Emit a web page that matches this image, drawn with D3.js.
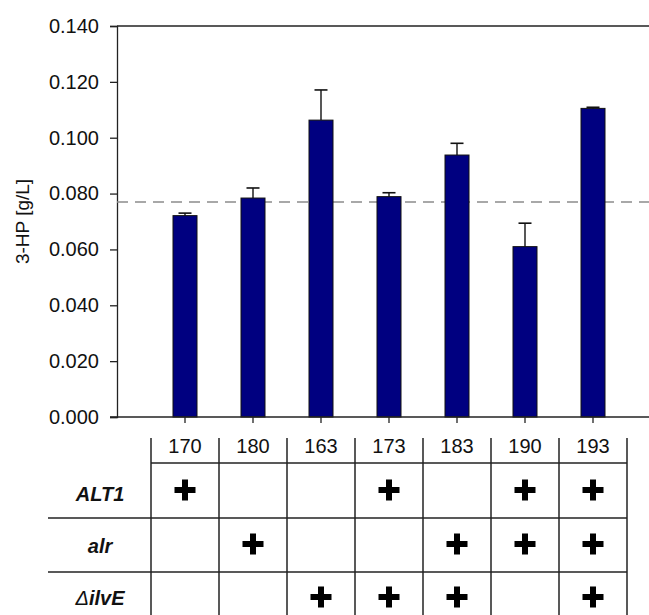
<!DOCTYPE html>
<html>
<head>
<meta charset="utf-8">
<script src="https://cdn.jsdelivr.net/npm/d3@7"></script>
<style>
  html, body { margin: 0; padding: 0; background: #fff; }
  svg { display: block; font-family: "Liberation Sans", Arial, sans-serif; }
</style>
</head>
<body>
<svg id="chart" width="649" height="615"></svg>
<script>
// 3-HP titres per strain, with upper standard deviation
const strains = ["170", "180", "163", "173", "183", "190", "193"];
const titres = [0.0721, 0.0784, 0.1063, 0.0789, 0.0938, 0.0610, 0.1105];
const errors = [0.0009, 0.0036, 0.0108, 0.0014, 0.0042, 0.0084, 0.0004];
const referenceLevel = 0.0770;
const yTicks = [0, 0.02, 0.04, 0.06, 0.08, 0.10, 0.12, 0.14];

// Genetic modifications present in each strain (1 = present)
const genes = ["ALT1", "alr", "ilvE"];
const geneALT1 = [1, 0, 0, 1, 0, 1, 1];
const geneAlr  = [0, 1, 0, 0, 1, 1, 1];
const geneIlvE = [0, 0, 1, 1, 1, 0, 1];
const geneRows = [geneALT1, geneAlr, geneIlvE];

const svg = d3.select("#chart");

const plotLeft = 117, plotRight = 649, plotTop = 26, plotBottom = 417;

const y = d3.scaleLinear().domain([0, 0.14]).range([plotBottom, plotTop]);
const x = d3.scaleBand().domain(strains).range([151, 627]).padding(0);
const barWidth = 24;

// frame: top line
svg.append("line")
  .attr("x1", plotLeft).attr("x2", plotRight)
  .attr("y1", y(0.14)).attr("y2", y(0.14))
  .attr("stroke", "#222").attr("stroke-width", 1.3);

// y axis
const yAxis = d3.axisLeft(y)
  .tickValues(yTicks)
  .tickFormat(d3.format(".3f"))
  .tickSize(7)
  .tickPadding(11);
const gy = svg.append("g")
  .attr("transform", `translate(${plotLeft},0)`)
  .call(yAxis);
gy.select(".domain").attr("stroke", "#222").attr("stroke-width", 1.3);
gy.selectAll(".tick line").attr("stroke", "#222").attr("stroke-width", 1.3);
gy.selectAll(".tick text")
  .attr("font-size", 20)
  .attr("fill", "#111")
  .attr("font-family", "Liberation Sans, Arial, sans-serif");

// y axis title
svg.append("text")
  .attr("transform", `translate(29,${(plotTop + plotBottom) / 2}) rotate(-90)`)
  .attr("text-anchor", "middle")
  .attr("font-size", 19)
  .attr("fill", "#111")
  .text("3-HP [g/L]");

// reference level
svg.append("line")
  .attr("x1", plotLeft).attr("x2", plotRight)
  .attr("y1", y(referenceLevel)).attr("y2", y(referenceLevel))
  .attr("stroke", "#8c8c8c").attr("stroke-width", 1.6)
  .attr("stroke-dasharray", "11,7");

// bars
const data = strains.map((s, i) => ({ strain: s, value: titres[i], err: errors[i] }));
const cx = d => x(d.strain) + x.bandwidth() / 2;

svg.append("g").selectAll("rect")
  .data(data)
  .join("rect")
  .attr("x", d => cx(d) - barWidth / 2)
  .attr("y", d => y(d.value))
  .attr("width", barWidth)
  .attr("height", d => y(0) - y(d.value))
  .attr("fill", "#000080")
  .attr("stroke", "#111")
  .attr("stroke-width", 1);

// upper error bars
const eb = svg.append("g").selectAll("g")
  .data(data)
  .join("g");
eb.append("line")
  .attr("x1", cx).attr("x2", cx)
  .attr("y1", d => y(d.value)).attr("y2", d => y(d.value + d.err))
  .attr("stroke", "#111").attr("stroke-width", 1.4);
eb.append("line")
  .attr("x1", d => cx(d) - 6.5).attr("x2", d => cx(d) + 6.5)
  .attr("y1", d => y(d.value + d.err)).attr("y2", d => y(d.value + d.err))
  .attr("stroke", "#111").attr("stroke-width", 1.6);

// x axis baseline with ticks at bar centres
svg.append("line")
  .attr("x1", plotLeft - 7).attr("x2", plotRight)
  .attr("y1", y(0)).attr("y2", y(0))
  .attr("stroke", "#222").attr("stroke-width", 1.3);
svg.append("g").selectAll("line")
  .data(data)
  .join("line")
  .attr("x1", cx).attr("x2", cx)
  .attr("y1", y(0)).attr("y2", y(0) + 6)
  .attr("stroke", "#222").attr("stroke-width", 1.3);

// ---- strain / genotype table ----
const table = svg.append("g");
const headerTop = 438, headerLine = 463, tableBottom = 630;
const rowLines = [518, 572];
const labelLeft = 48;
const colEdges = strains.map(s => x(s)).concat([x(strains[strains.length - 1]) + x.bandwidth()]);

// column separators
table.selectAll("line.col")
  .data(colEdges)
  .join("line")
  .attr("class", "col")
  .attr("x1", d => d).attr("x2", d => d)
  .attr("y1", headerTop).attr("y2", tableBottom)
  .attr("stroke", "#222").attr("stroke-width", 1.5);

// header underline
table.append("line")
  .attr("x1", colEdges[0]).attr("x2", colEdges[colEdges.length - 1])
  .attr("y1", headerLine).attr("y2", headerLine)
  .attr("stroke", "#222").attr("stroke-width", 1.5);

// row separators
table.selectAll("line.row")
  .data(rowLines)
  .join("line")
  .attr("class", "row")
  .attr("x1", labelLeft).attr("x2", colEdges[colEdges.length - 1])
  .attr("y1", d => d).attr("y2", d => d)
  .attr("stroke", "#222").attr("stroke-width", 1.5);

// strain numbers
table.selectAll("text.strain")
  .data(strains)
  .join("text")
  .attr("class", "strain")
  .attr("x", d => x(d) + x.bandwidth() / 2)
  .attr("y", 453)
  .attr("text-anchor", "middle")
  .attr("font-size", 20)
  .attr("fill", "#111")
  .text(d => d);

// gene labels
const labelX = 100;
const labelBaselines = [501, 553, 605];
genes.forEach((g, r) => {
  const t = table.append("text")
    .attr("x", labelX)
    .attr("y", labelBaselines[r])
    .attr("text-anchor", "middle")
    .attr("font-size", 20)
    .attr("font-style", "italic")
    .attr("font-weight", "bold")
    .attr("fill", "#111");
  if (g === "ilvE") {
    t.append("tspan").attr("font-weight", "normal").text("\u0394");
    t.append("tspan").text("ilvE");
  } else {
    t.text(g);
  }
});

// plus marks
const plusCentres = [490, 544, 597];
const armLen = 21, armW = 6;
geneRows.forEach((row, r) => {
  const cells = strains.map((s, i) => ({ strain: s, on: row[i] })).filter(d => d.on);
  const gp = table.append("g");
  gp.selectAll("rect.h")
    .data(cells)
    .join("rect")
    .attr("x", d => x(d.strain) + x.bandwidth() / 2 - armLen / 2)
    .attr("y", plusCentres[r] - armW / 2)
    .attr("width", armLen).attr("height", armW)
    .attr("fill", "#000");
  gp.selectAll("rect.v")
    .data(cells)
    .join("rect")
    .attr("x", d => x(d.strain) + x.bandwidth() / 2 - armW / 2)
    .attr("y", plusCentres[r] - armLen / 2)
    .attr("width", armW).attr("height", armLen)
    .attr("fill", "#000");
});
</script>
</body>
</html>
